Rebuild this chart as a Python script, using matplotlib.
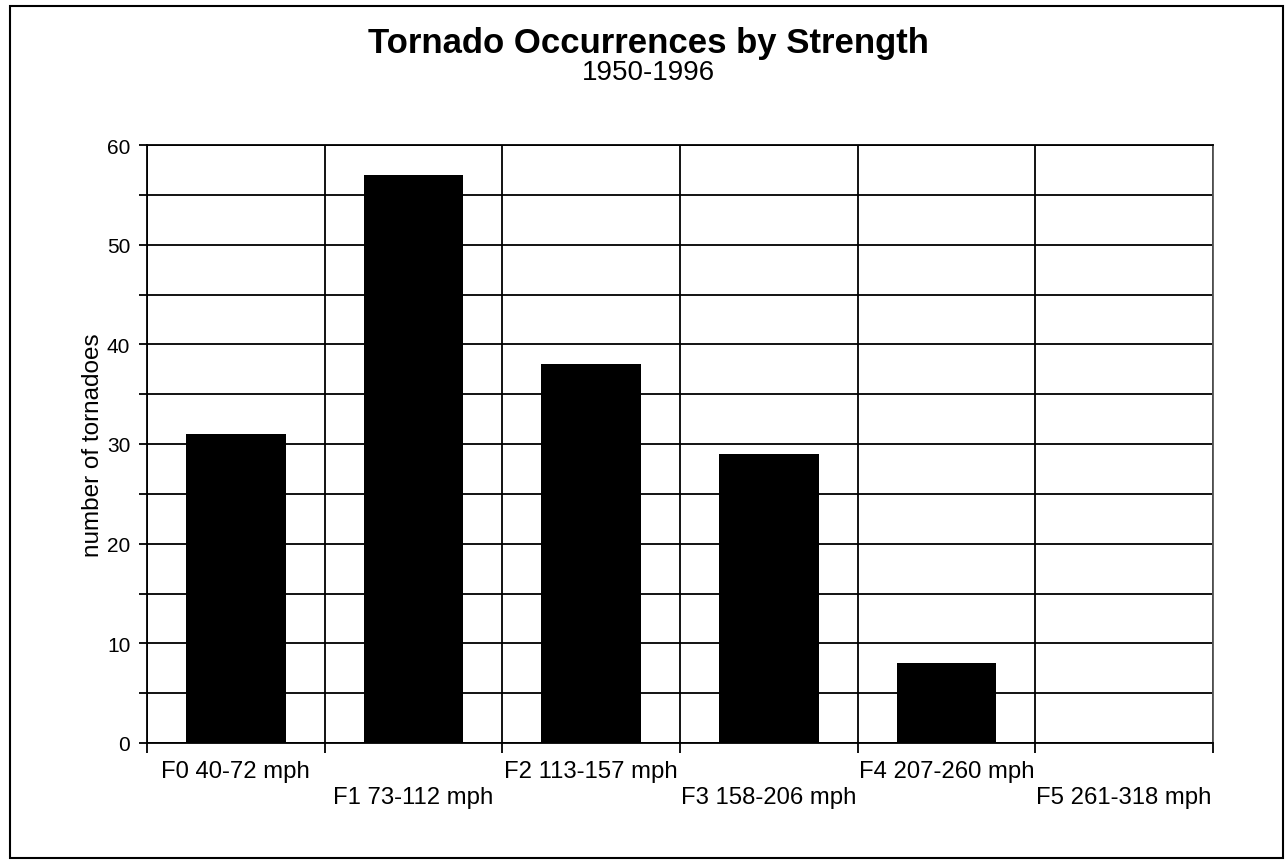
import matplotlib
matplotlib.use("Agg")
import matplotlib.pyplot as plt
from matplotlib.patches import Rectangle
from matplotlib.ticker import MultipleLocator, FixedLocator

plt.rcParams['font.family'] = ['Liberation Sans', 'DejaVu Sans']

categories = ["F0 40-72 mph", "F1 73-112 mph", "F2 113-157 mph",
              "F3 158-206 mph", "F4 207-260 mph", "F5 261-318 mph"]
counts = [31, 57, 38, 29, 8, 0]
yticks = [0, 10, 20, 30, 40, 50, 60]

W, H = 1287, 862
fig = plt.figure(figsize=(W / 100, H / 100), dpi=100)
ax = fig.add_axes([147 / W, 1 - 744 / H, (1213 - 147) / W, (744 - 146) / H])

x = list(range(len(categories)))
ax.bar(x, counts, width=0.56, color='black', zorder=3)

ax.set_xlim(-0.5, len(categories) - 0.5)
ax.set_ylim(0, 60)

ax.yaxis.set_major_locator(FixedLocator(yticks))
ax.yaxis.set_minor_locator(MultipleLocator(5))
ax.set_yticklabels([str(v) for v in yticks], fontsize=15)
ax.tick_params(axis='y', which='both', direction='out', length=6, width=1.3, pad=6)

ax.set_xticks(x)
ax.set_xticklabels(categories, fontsize=17.2)
ax.xaxis.set_minor_locator(FixedLocator([i + 0.5 for i in range(-1, len(categories))]))
ax.tick_params(axis='x', which='major', length=0, pad=12)
ax.tick_params(axis='x', which='minor', direction='out', length=7, width=1.3)
for i, t in enumerate(ax.xaxis.get_major_ticks()):
    if i % 2 == 1:
        t.set_pad(31)

ax.grid(True, which='both', axis='y', color='black', linewidth=1.3, zorder=1)
ax.grid(True, which='minor', axis='x', color='black', linewidth=1.3, zorder=1)
for s in ax.spines.values():
    s.set_linewidth(1.3)
    s.set_color('black')
ax.spines['right'].set_color('#555555')

ax.set_ylabel("number of tornadoes", fontsize=17.5, labelpad=2)

fig.text(0.5035, 1 - 44 / H, "Tornado Occurrences by Strength",
         ha='center', va='center', fontsize=25, fontweight='bold')
fig.text(0.5035, 1 - 73 / H, "1950-1996", ha='center', va='center', fontsize=20)

fig.patches.append(Rectangle((10 / W, 1 - 859 / H), 1273 / W, 852 / H,
                             transform=fig.transFigure, fill=False,
                             edgecolor='black', linewidth=1.5))

fig.savefig("out.png", dpi=100)
